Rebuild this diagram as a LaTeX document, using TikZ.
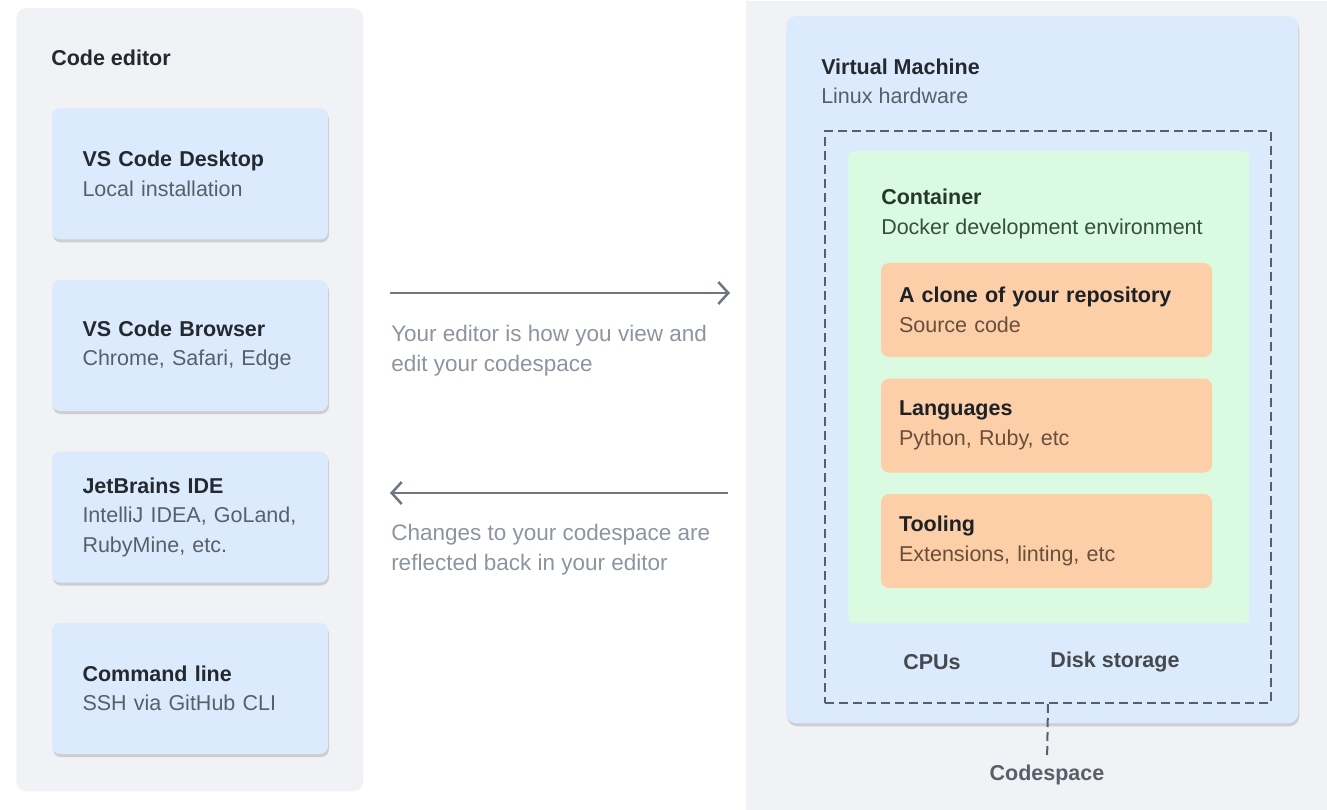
\documentclass[tikz,border=0pt]{standalone}
\usepackage{fontspec}
\setmainfont{Liberation Sans}
\usepackage{tikz}
\usetikzlibrary{positioning,shadows,arrows.meta}
\definecolor{panel}{HTML}{F0F2F5}
\definecolor{cardblue}{HTML}{DBEAFC}
\definecolor{boxgreen}{HTML}{DAFBE1}
\definecolor{boxorange}{HTML}{FCCFA8}
\definecolor{ink}{HTML}{24292F}
\definecolor{subink}{HTML}{57606A}
\definecolor{greenink}{HTML}{34503F}
\definecolor{orangeink}{HTML}{6A4E3C}
\definecolor{hintgray}{HTML}{8C959F}
\definecolor{arrowgray}{HTML}{6E7781}
\definecolor{dashgray}{HTML}{57606A}
\tikzset{
  card/.style={fill=cardblue,rounded corners=8pt,minimum width=276pt,minimum height=131pt,
    text width=215pt,inner xsep=30.5pt,align=left,text=ink,
    drop shadow={shadow xshift=1pt,shadow yshift=-3pt,opacity=.25,fill=black!60}},
  layer/.style={fill=boxorange,rounded corners=8pt,minimum width=331pt,minimum height=94pt,
    text width=295pt,inner xsep=18pt,align=left,text=ink!80!black},
  heading/.style={anchor=west,align=left,text=ink,inner xsep=0pt},
  hint/.style={anchor=west,align=left,text=hintgray,inner xsep=0pt,font=\fontsize{22.5pt}{30pt}\selectfont},
}
\begin{document}
\begin{tikzpicture}[x=1pt,y=-1pt,node distance=38pt,line width=2.5pt,
    every node/.style={font=\fontsize{21.5pt}{29.5pt}\selectfont,inner ysep=0pt}]
        \useasboundingbox (0,0) rectangle (1327,810);
        \node[fill=panel,rounded corners=10pt,minimum width=347pt,minimum height=783pt,anchor=north west] (editor) at (15,7) {};
        \node[fill=panel,minimum width=582pt,minimum height=810pt,anchor=north west] (cloud) at (745,0) {};
        \node[heading] (editorname) at (50,58) {\textbf{Code editor}};
        \node[card] (desktop) at (190,174) {\textbf{VS Code Desktop}\\\textcolor{subink}{Local installation}};
        \node[card] (browser) [below=of desktop] {\textbf{VS Code Browser}\\\textcolor{subink}{Chrome, Safari, Edge}};
        \node[card] (jetbrains) [below=of browser] {\textbf{JetBrains IDE}\\\textcolor{subink}{IntelliJ IDEA, GoLand,}\\\textcolor{subink}{RubyMine, etc.}};
        \node[card] (cli) [below=of jetbrains] {\textbf{Command line}\\\textcolor{subink}{SSH via GitHub CLI}};
        \node[fill=cardblue,rounded corners=10pt,minimum width=512pt,minimum height=707pt,anchor=north west,
            drop shadow={shadow xshift=1pt,shadow yshift=-3pt,opacity=.25,fill=black!60}] (vm) at (785,15) {};
        \node[heading] (vmname) at (820,81.5) {\textbf{Virtual Machine}\\\textcolor{subink}{Linux hardware}};
        \node[draw=dashgray,dash pattern=on 9pt off 5pt,line width=2pt,minimum width=446pt,minimum height=572pt,anchor=north west] (codespace) at (824,130) {};
        \node[fill=boxgreen,rounded corners=6pt,minimum width=401pt,minimum height=472pt,anchor=north west] (container) at (847,150) {};
        \node[heading,text=greenink!70!black] (containername) at (880,214) {\textbf{Container}\\\textcolor{greenink}{Docker development environment}};
        \node[layer] (repo) at (1046.5,310) {\textbf{A clone of your repository}\\\textcolor{orangeink}{Source code}};
        \node[layer] (langs) [below=19pt of repo] {\textbf{Languages}\\\textcolor{orangeink}{Python, Ruby, etc}};
        \node[layer] (tools) [below=19pt of langs] {\textbf{Tooling}\\\textcolor{orangeink}{Extensions, linting, etc}};
        \node[text=ink!85] (cpus) at (932,662) {\textbf{CPUs}};
        \node[text=ink!85] (disk) at (1115,662) {\textbf{Disk storage}};
        \node[text=subink] (cslabel) at (1047,775) {\textbf{Codespace}};
        \draw[dashgray,dash pattern=on 9pt off 5pt,line width=2pt,shorten >=6pt] (codespace.south) -- (cslabel.north);
        \coordinate (sendL) at (390,293);
        \coordinate (sendR) at (730,293);
        \coordinate (backL) at (390,493);
        \coordinate (backR) at (728,493);
        \draw[arrowgray,-{Straight Barb[length=10pt,width=22pt]}] (sendL) -- (sendR);
        \draw[arrowgray,-{Straight Barb[length=10pt,width=22pt]}] (backR) -- (backL);
        \node[hint] (sendtxt) at (390,351) {Your editor is how you view and\\edit your codespace};
        \node[hint] (backtxt) at (390,550) {Changes to your codespace are\\reflected back in your editor};
    \end{tikzpicture}
\end{document}
